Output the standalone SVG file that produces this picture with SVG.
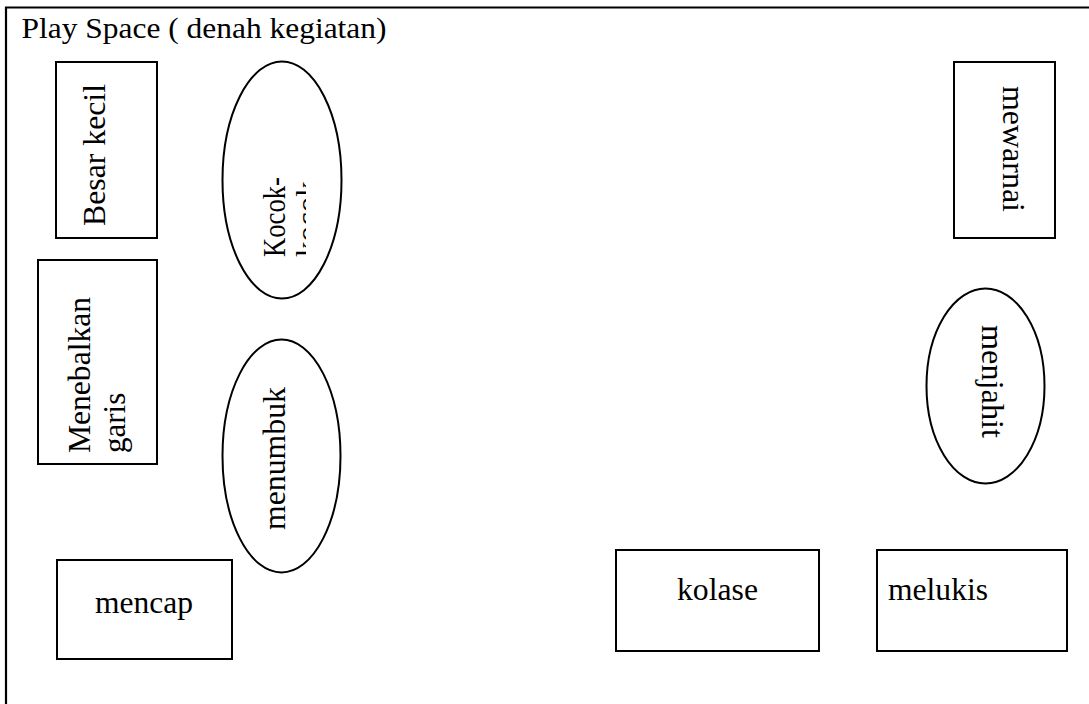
<svg xmlns="http://www.w3.org/2000/svg" width="1089" height="704" viewBox="0 0 1089 704">
<style>
.box{fill:#fff;stroke:#000;stroke-width:2}
.ell{fill:#fff;stroke:#000;stroke-width:2}
text{fill:#000}
</style>
<defs>
<clipPath id="kclip"><rect x="240" y="60" width="66" height="240"/></clipPath>
</defs>
<rect width="1089" height="704" fill="#fff"/>
<g font-family="'Liberation Serif', 'Times New Roman', serif" font-size="31">
<path d="M6,704 V7.5 H1089" fill="none" stroke="#000" stroke-width="2.2"/>
<text x="21.5" y="37.5" font-size="29" textLength="365" lengthAdjust="spacingAndGlyphs">Play Space ( denah kegiatan)</text>

<g id="besar-kecil">
<rect class="box" x="56" y="62" width="101" height="176"/>
<text transform="translate(105,226) rotate(-90)" textLength="142" lengthAdjust="spacingAndGlyphs">Besar kecil</text>
</g>
<g id="kocok">
<ellipse class="ell" cx="282" cy="180" rx="59.5" ry="118.5"/>
<text transform="translate(285,257) rotate(-90)" textLength="80" lengthAdjust="spacingAndGlyphs">Kocok-</text>
<g clip-path="url(#kclip)"><text transform="translate(318,257) rotate(-90)">kocok</text></g>
</g>
<g id="menebalkan">
<rect class="box" x="38" y="260" width="119" height="204"/>
<text transform="translate(90,453) rotate(-90)" textLength="156" lengthAdjust="spacingAndGlyphs">Menebalkan</text>
<text transform="translate(125,453) rotate(-90)">garis</text>
</g>
<g id="menumbuk">
<ellipse class="ell" cx="281.5" cy="456" rx="59" ry="116.5"/>
<text transform="translate(285,530) rotate(-90)" textLength="143" lengthAdjust="spacingAndGlyphs">menumbuk</text>
</g>
<g id="mencap">
<rect class="box" x="57" y="560" width="175" height="99"/>
<text x="95" y="613" textLength="98" lengthAdjust="spacingAndGlyphs">mencap</text>
</g>
<g id="kolase">
<rect class="box" x="616" y="550" width="203" height="101"/>
<text x="677" y="600" textLength="81" lengthAdjust="spacingAndGlyphs">kolase</text>
</g>
<g id="melukis">
<rect class="box" x="877" y="550" width="190" height="101"/>
<text x="888" y="600" textLength="100" lengthAdjust="spacingAndGlyphs">melukis</text>
</g>
<g id="mewarnai">
<rect class="box" x="954" y="62" width="101" height="176"/>
<text transform="translate(1003,86) rotate(90)" textLength="126" lengthAdjust="spacingAndGlyphs">mewarnai</text>
</g>
<g id="menjahit">
<ellipse class="ell" cx="985.5" cy="386" rx="59" ry="97.5"/>
<text transform="translate(982,325) rotate(90)" textLength="113" lengthAdjust="spacingAndGlyphs">menjahit</text>
</g>
</g>
<g id="connectors"></g>
</svg>
